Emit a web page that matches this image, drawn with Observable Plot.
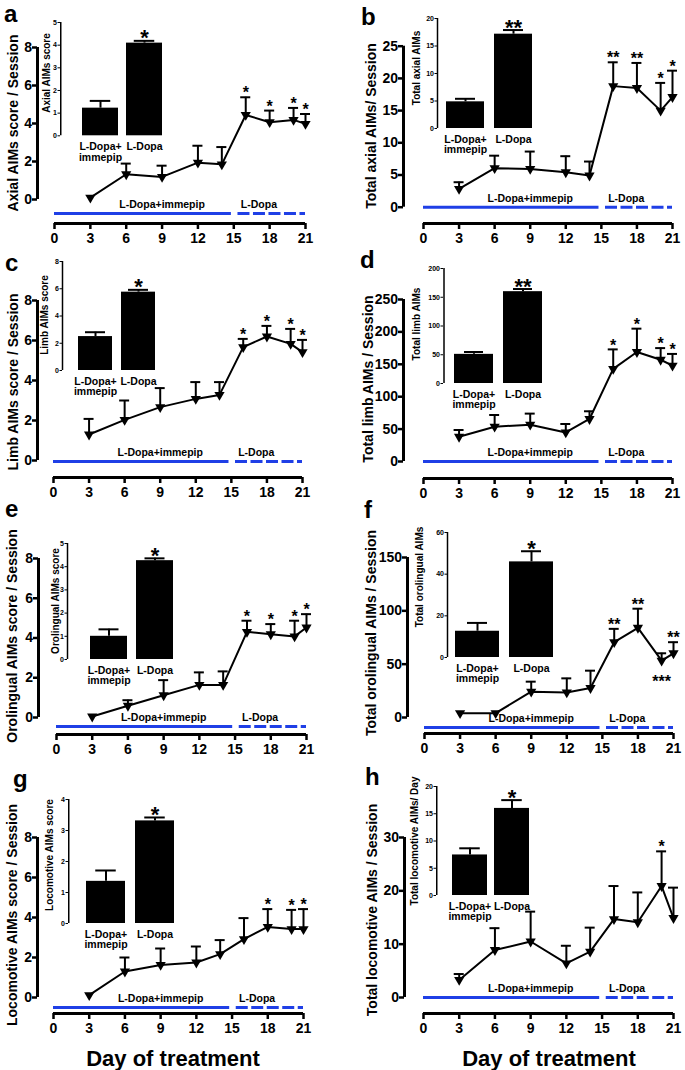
<!DOCTYPE html>
<html><head><meta charset="utf-8">
<script src="https://cdn.jsdelivr.net/npm/d3@7"></script>
<script src="https://cdn.jsdelivr.net/npm/@observablehq/plot@0.6"></script>
<style>
body{margin:0;background:#fff;}
#fig{position:relative;width:685px;height:1070px;overflow:hidden;background:#fff;font-family:"Liberation Sans",Arial,sans-serif;font-weight:bold;color:#000;}
.lbl{position:absolute;white-space:nowrap;font-weight:bold;}
</style></head><body><div id="fig"></div><script>
// ---------- data ----------
const days = [3, 6, 9, 12, 14, 16, 18, 20, 21];
const xTicks = [0, 3, 6, 9, 12, 15, 18, 21];
const groups = ["L-Dopa+\nimmepip", "L-Dopa"];
const phaseLabels = ["L-Dopa+immepip", "L-Dopa"];
const phaseStart = [0, 15.35];
const phaseEnd = [14.8, 21];
const phaseLabelAt = [9, 17.1];

// a: axial score
const axialScore = [0.1, 1.33, 1.19, 1.94, 1.85, 4.45, 4.07, 4.19, 3.98];
const axialScoreSem = [null, 0.56, 0.59, 0.89, 0.91, 0.93, 0.61, 0.63, 0.52];
const axialScoreStars = ["", "", "", "", "", "*", "*", "*", "*"];
const axialScoreTicks = [0, 2, 4, 6, 8];
const axialScoreBars = [1.22, 4.09];
const axialScoreBarsSem = [0.32, 0.10];
const axialScoreBarStars = ["", "*"];
const axialScoreBarTicks = [0, 1, 2, 3, 4, 5];

// b: total axial
const totalAxial = [2.85, 6.06, 5.95, 5.43, 4.92, 18.8, 18.5, 15.0, 17.1];
const totalAxialSem = [1.03, 1.94, 2.69, 2.49, 2.17, 3.7, 3.9, 4.3, 4.1];
const totalAxialStars = ["", "", "", "", "", "**", "**", "*", "*"];
const totalAxialTicks = [0, 5, 10, 15, 20, 25];
const totalAxialBars = [4.85, 17.15];
const totalAxialBarsSem = [0.55, 0.75];
const totalAxialBarStars = ["", "**"];
const totalAxialBarTicks = [0, 5, 10, 15, 20];

// c: limb score
const limbScore = [1.3, 2.03, 2.67, 3.08, 3.28, 5.67, 6.2, 5.83, 5.42];
const limbScoreSem = [0.78, 0.97, 0.95, 0.84, 0.64, 0.41, 0.53, 0.75, 0.61];
const limbScoreStars = ["", "", "", "", "", "*", "*", "*", "*"];
const limbScoreTicks = [0, 2, 4, 6, 8];
const limbScoreBars = [2.49, 5.75];
const limbScoreBarsSem = [0.32, 0.17];
const limbScoreBarStars = ["", "*"];
const limbScoreBarTicks = [0, 2, 4, 6, 8];

// d: total limb
const totalLimb = [38.2, 53.7, 56.8, 44.9, 65.6, 143, 169, 157, 148];
const totalLimbSem = [10.4, 18.1, 17.1, 13, 11.9, 30, 36, 18, 18];
const totalLimbStars = ["", "", "", "", "", "*", "*", "*", "*"];
const totalLimbTicks = [0, 50, 100, 150, 200, 250];
const totalLimbBars = [50.7, 159.7];
const totalLimbBarsSem = [4.1, 4.6];
const totalLimbBarStars = ["", "**"];
const totalLimbBarTicks = [0, 50, 100, 150, 200];

// e: orolingual score
const oroScore = [0.05, 0.59, 1.12, 1.64, 1.64, 4.31, 4.19, 4.08, 4.53];
const oroScoreSem = [null, 0.28, 0.76, 0.63, 0.68, 0.56, 0.51, 0.79, 0.67];
const oroScoreStars = ["", "", "", "", "", "*", "*", "*", "*"];
const oroScoreTicks = [0, 2, 4, 6, 8];
const oroScoreBars = [1.0, 4.26];
const oroScoreBarsSem = [0.3, 0.1];
const oroScoreBarStars = ["", "*"];
const oroScoreBarTicks = [0, 1, 2, 3, 4, 5];

// f: total orolingual
const totalOro = [4.1, 4.1, 24.2, 23.5, 27.6, 70.6, 84.1, 53.3, 60.2];
const totalOroSem = [null, null, 9.4, 13.2, 16.3, 12.5, 17.9, 6.9, 10.4];
const totalOroStars = ["", "", "", "", "", "**", "**", "", "**"];
const totalOroStarsBelow = ["", "", "", "", "", "", "", "***", ""];
const totalOroTicks = [0, 50, 100, 150];
const totalOroBars = [12.6, 45.9];
const totalOroBarsSem = [4.0, 5.1];
const totalOroBarStars = ["", "*"];
const totalOroBarTicks = [0, 20, 40, 60];

// g: locomotive score
const locoScore = [0.12, 1.3, 1.63, 1.75, 2.17, 2.92, 3.53, 3.42, 3.42];
const locoScoreSem = [null, 0.7, 0.82, 0.8, 0.7, 1.05, 0.89, 0.96, 1.0];
const locoScoreStars = ["", "", "", "", "", "", "*", "*", "*"];
const locoScoreTicks = [0, 2, 4, 6, 8];
const locoScoreBars = [1.36, 3.31];
const locoScoreBarsSem = [0.35, 0.11];
const locoScoreBarStars = ["", "*"];
const locoScoreBarTicks = [0, 1, 2, 3, 4];

// h: total locomotive
const totalLoco = [3.3, 8.9, 10.5, 6.4, 8.6, 14.7, 14.1, 20.9, 14.9];
const totalLocoSem = [1.1, 4.1, 5.6, 3.3, 4.5, 6.2, 5.6, 6.5, 5.7];
const totalLocoStars = ["", "", "", "", "", "", "", "*", ""];
const totalLocoTicks = [0, 10, 20, 30];
const totalLocoBars = [7.44, 15.98];
const totalLocoBarsSem = [1.22, 1.52];
const totalLocoBarStars = ["", "*"];
const totalLocoBarTicks = [0, 5, 10, 15, 20];

// ---------- layout ----------
const FONT = '"Liberation Sans", Arial, sans-serif';
const BLUE = "#1f3fe6";
const fig = document.getElementById("fig");
const intFmt = d3.format("d");

function place(el, left, top) {
  el.style.position = "absolute";
  el.style.left = left + "px";
  el.style.top = top + "px";
  fig.appendChild(el);
}
function rotLabel(text, cx, cy, size) {
  const d = document.createElement("div");
  d.className = "lbl";
  d.textContent = text;
  d.style.fontSize = size + "px";
  d.style.lineHeight = size + "px";
  d.style.left = cx + "px";
  d.style.top = cy + "px";
  d.style.transform = "translate(-50%,-50%) rotate(-90deg)";
  fig.appendChild(d);
}
function textAt(text, x, baseline, size, center) {
  const d = document.createElement("div");
  d.className = "lbl";
  d.textContent = text;
  d.style.fontSize = size + "px";
  d.style.lineHeight = (0.8 * size) + "px";
  d.style.top = (baseline - 0.7465 * size) + "px";
  d.style.left = x + "px";
  if (center) d.style.transform = "translateX(-50%)";
  fig.appendChild(d);
}

function mainChart(g, values, sem, stars, starsBelow, yTicks) {
  const ppx = (g.x21 - g.x0) / 21;
  const xlo = -(g.x0 - g.yAxis) / ppx;
  const yMax = yTicks[yTicks.length - 1];
  const ppu = (g.y0 - g.yTop) / yMax;
  const ylo = -(g.xLine - g.y0) / ppu;
  const yBlue = -(g.blue - g.y0) / ppu;
  const rows = days.map((day, i) => ({day, v: values[i], e: sem[i], s: stars[i], b: starsBelow ? starsBelow[i] : ""}));
  const withErr = rows.filter(r => r.e != null);
  const phases = phaseLabels.map((label, i) => ({label, x1: phaseStart[i], x2: phaseEnd[i], at: phaseLabelAt[i]}));
  const svg = Plot.plot({
    width: g.W, height: g.H,
    marginLeft: g.yAxis - g.L, marginRight: g.L + g.W - g.x21,
    marginTop: g.yTop - g.T, marginBottom: g.T + g.H - g.xLine,
    x: {domain: [xlo, 21]},
    y: {domain: [ylo, yMax]},
    style: {fontFamily: FONT, fontWeight: "bold", fontSize: "14px", background: "transparent", overflow: "visible", color: "black"},
    marks: [
      Plot.ruleY([ylo], {x1: 0, x2: 21, strokeWidth: 3}),
      Plot.axisX({ticks: xTicks, tickFormat: intFmt, tickSize: 6, tickPadding: 4, strokeWidth: 2.5, fontSize: 14, fontWeight: "bold", label: null}),
      Plot.ruleX([xlo], {y1: 0, y2: yMax, strokeWidth: 3}),
      Plot.axisY({ticks: yTicks, tickFormat: intFmt, tickSize: 5, tickPadding: 0.5, strokeWidth: 2.5, fontSize: 14, fontWeight: "bold", label: null}),
      Plot.ruleY([phases[0]], {y: yBlue, x1: "x1", x2: "x2", stroke: BLUE, strokeWidth: 3}),
      Plot.ruleY([phases[1]], {y: yBlue, x1: "x1", x2: "x2", stroke: BLUE, strokeWidth: 3, strokeDasharray: "12,3.5"}),
      Plot.text(phases, {x: "at", y: yBlue, text: "label", dy: -9, fontSize: 10.5, fontWeight: "bold"}),
      Plot.ruleX(withErr, {x: "day", y1: "v", y2: r => r.v + r.e, strokeWidth: 2}),
      Plot.ruleY(withErr, {y: r => r.v + r.e, x1: r => r.day - 0.42, x2: r => r.day + 0.42, strokeWidth: 2}),
      Plot.line(rows, {x: "day", y: "v", strokeWidth: 2}),
      Plot.dot(rows, {x: "day", y: "v", symbol: "triangle", rotate: 180, r: 3.8, fill: "black", stroke: "none"}),
      Plot.text(rows.filter(r => r.s), {x: "day", y: r => r.v + (r.e || 0), text: "s", dy: -4, fontSize: 16, fontWeight: "bold"}),
      Plot.text(rows.filter(r => r.b), {x: "day", y: "v", text: "b", dy: 21, fontSize: 16, fontWeight: "bold"})
    ]
  });
  place(svg, g.L, g.T);
}

function insetChart(q, values, sem, stars, yTicks) {
  const yMax = yTicks[yTicks.length - 1];
  const step = q.b2 - q.b1, bw = q.bw;
  const pin = 1 - bw / step, pout = (q.b1 - q.axis) / step;
  const frameW = step * (2 - pin + 2 * pout);
  const mL = 22, mR = 14, mT = 20, mB = 40;
  const capInset = Math.max(0, (bw - 20) / 2);
  const rows = groups.map((g, i) => ({g, v: values[i], e: sem[i], s: stars[i]}));
  const svg = Plot.plot({
    width: mL + frameW + mR, height: mT + (q.y0 - q.yTop) + mB,
    marginLeft: mL, marginRight: mR, marginTop: mT, marginBottom: mB,
    x: {type: "band", domain: groups, paddingInner: pin, paddingOuter: pout, align: 0.5},
    y: {domain: [0, yMax]},
    style: {fontFamily: FONT, fontWeight: "bold", fontSize: "11px", background: "transparent", overflow: "visible", color: "black"},
    marks: [
      Plot.barY(rows, {x: "g", y: "v", fill: "black"}),
      Plot.ruleX(rows, {x: "g", y1: "v", y2: r => r.v + r.e, strokeWidth: 2}),
      Plot.tickY(rows, {x: "g", y: r => r.v + r.e, strokeWidth: 2, insetLeft: capInset, insetRight: capInset}),
      Plot.text(rows.filter(r => r.s), {x: "g", y: r => r.v + r.e, text: "s", dy: -2.5, fontSize: 22, fontWeight: "bold"}),
      Plot.ruleX([groups[0]], {y1: 0, y2: yMax, dx: -(pout * step + bw / 2), strokeWidth: 1.5}),
      Plot.axisY({ticks: yTicks, tickFormat: intFmt, tickSize: 2.5, tickPadding: 1, strokeWidth: 1, fontSize: 7, fontWeight: "bold", fill: "black", label: null}),
      Plot.axisX({tickSize: 0, tickPadding: 7, fontSize: 10.5, fontWeight: "bold", label: null})
    ]
  });
  place(svg, q.axis - mL, q.yTop - mT);
}

const panels = [
  {letter: "a", lx: 4, lb: 21.8,
   g: {L: 0, T: 20, W: 340, H: 235, yAxis: 37, x0: 54, x21: 305, y0: 199, yTop: 47, xLine: 223, blue: 213},
   q: {axis: 60, yTop: 21.7, y0: 135, b1: 82, b2: 126, bw: 35.5},
   main: [axialScore, axialScoreSem, axialScoreStars, null, axialScoreTicks],
   inset: [axialScoreBars, axialScoreBarsSem, axialScoreBarStars, axialScoreBarTicks],
   ylab: ["Axial AIMs score / Session", 13, 123], ilab: ["Axial AIMs score", 47, 73]},
  {letter: "b", lx: 361, lb: 25,
   g: {L: 340, T: 20, W: 345, H: 235, yAxis: 403, x0: 423, x21: 672, y0: 206.7, yTop: 45.7, xLine: 223, blue: 206.7},
   q: {axis: 437, yTop: 18.3, y0: 128.3, b1: 446, b2: 494, bw: 38},
   main: [totalAxial, totalAxialSem, totalAxialStars, null, totalAxialTicks],
   inset: [totalAxialBars, totalAxialBarsSem, totalAxialBarStars, totalAxialBarTicks],
   ylab: ["Total axial AIMs/ Session", 371, 126], ilab: ["Total axial AIMs", 417, 68]},
  {letter: "c", lx: 5, lb: 271,
   g: {L: 0, T: 280, W: 340, H: 225, yAxis: 37, x0: 53, x21: 302, y0: 460, yTop: 300, xLine: 477, blue: 461},
   q: {axis: 62, yTop: 261, y0: 370, b1: 78, b2: 121, bw: 34},
   main: [limbScore, limbScoreSem, limbScoreStars, null, limbScoreTicks],
   inset: [limbScoreBars, limbScoreBarsSem, limbScoreBarStars, limbScoreBarTicks],
   ylab: ["Limb AIMs score / Session", 13, 382], ilab: ["Limb AIMs score", 45, 315]},
  {letter: "d", lx: 360, lb: 268,
   g: {L: 340, T: 280, W: 345, H: 225, yAxis: 403, x0: 423, x21: 672, y0: 461, yTop: 299, xLine: 478, blue: 461},
   q: {axis: 443, yTop: 268, y0: 383, b1: 453, b2: 503, bw: 40},
   main: [totalLimb, totalLimbSem, totalLimbStars, null, totalLimbTicks],
   inset: [totalLimbBars, totalLimbBarsSem, totalLimbBarStars, totalLimbBarTicks],
   ylab: ["Total limb AIMs / Session", 368, 379], ilab: ["Total limb AIMs", 417, 324]},
  {letter: "e", lx: 5, lb: 517,
   g: {L: 0, T: 535, W: 340, H: 225, yAxis: 38, x0: 56, x21: 306, y0: 717, yTop: 558, xLine: 734, blue: 726},
   q: {axis: 67, yTop: 543, y0: 659, b1: 90, b2: 136, bw: 37},
   main: [oroScore, oroScoreSem, oroScoreStars, null, oroScoreTicks],
   inset: [oroScoreBars, oroScoreBarsSem, oroScoreBarStars, oroScoreBarTicks],
   ylab: ["Orolingual AIMs score / Session", 12, 636], ilab: ["Orolingual AIMs score", 56, 601]},
  {letter: "f", lx: 364, lb: 518,
   g: {L: 340, T: 535, W: 345, H: 225, yAxis: 407, x0: 424, x21: 673, y0: 717, yTop: 557, xLine: 733, blue: 727},
   q: {axis: 447, yTop: 532, y0: 657, b1: 455, b2: 509, bw: 44},
   main: [totalOro, totalOroSem, totalOroStars, totalOroStarsBelow, totalOroTicks],
   inset: [totalOroBars, totalOroBarsSem, totalOroBarStars, totalOroBarTicks],
   ylab: ["Total orolingual AIMs / Session", 371, 633], ilab: ["Total orolingual AIMs", 420, 577]},
  {letter: "g", lx: 13, lb: 787,
   g: {L: 0, T: 810, W: 340, H: 230, yAxis: 37, x0: 53, x21: 303, y0: 997, yTop: 837, xLine: 1013, blue: 1007},
   q: {axis: 68, yTop: 799, y0: 923, b1: 86, b2: 135, bw: 38.5},
   main: [locoScore, locoScoreSem, locoScoreStars, null, locoScoreTicks],
   inset: [locoScoreBars, locoScoreBarsSem, locoScoreBarStars, locoScoreBarTicks],
   ylab: ["Locomotive AIMs score / Session", 12, 915], ilab: ["Locomotive AIMs score", 50, 855]},
  {letter: "h", lx: 365, lb: 785,
   g: {L: 340, T: 810, W: 345, H: 230, yAxis: 404, x0: 423, x21: 673, y0: 997, yTop: 837, xLine: 1013, blue: 997},
   q: {axis: 436, yTop: 786, y0: 895, b1: 452, b2: 494, bw: 34.5},
   main: [totalLoco, totalLocoSem, totalLocoStars, null, totalLocoTicks],
   inset: [totalLocoBars, totalLocoBarsSem, totalLocoBarStars, totalLocoBarTicks],
   ylab: ["Total locomotive AIMs / Session", 372, 910], ilab: ["Total locomotive AIMs/ Day", 415, 841]}
];

for (const p of panels) {
  mainChart(p.g, ...p.main);
  insetChart(p.q, ...p.inset);
  rotLabel(p.ylab[0], p.ylab[1], p.ylab[2], 14);
  rotLabel(p.ilab[0], p.ilab[1], p.ilab[2], 10);
  textAt(p.letter, p.lx, p.lb, 24, false);
}
textAt("Day of treatment", 173, 1066, 22, true);
textAt("Day of treatment", 549, 1066, 22, true);
</script></body></html>
